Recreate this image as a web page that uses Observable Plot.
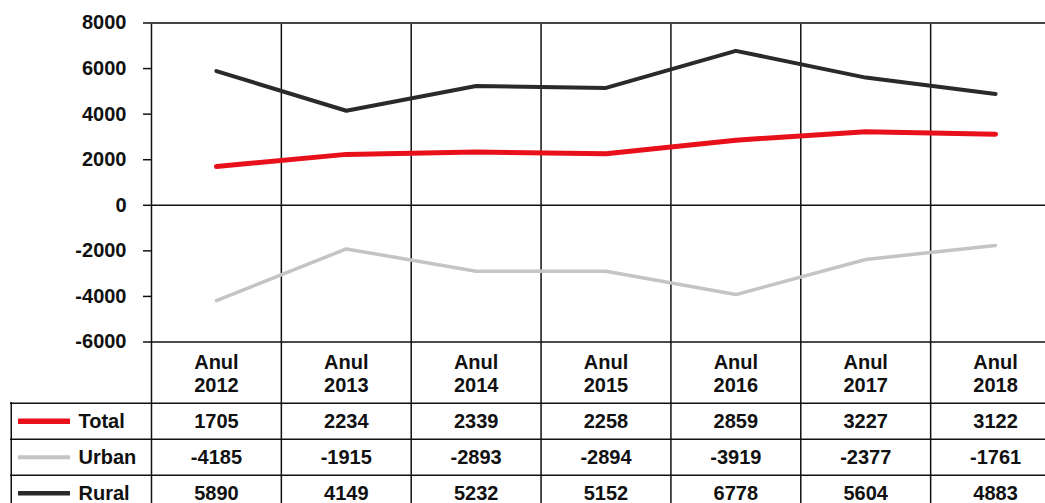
<!DOCTYPE html>
<html>
<head>
<meta charset="utf-8">
<script src="https://cdn.jsdelivr.net/npm/d3@7"></script>
<script src="https://cdn.jsdelivr.net/npm/@observablehq/plot@0.6"></script>
<style>
  html, body { margin: 0; padding: 0; background: #fff; }
  #chart svg { display: block; }
</style>
</head>
<body>
<div id="chart"></div>
<script>
const years = [2012, 2013, 2014, 2015, 2016, 2017, 2018];
const seriesNames = ["Total", "Urban", "Rural"];
const totalValues = [1705, 2234, 2339, 2258, 2859, 3227, 3122];
const urbanValues = [-4185, -1915, -2893, -2894, -3919, -2377, -1761];
const ruralValues = [5890, 4149, 5232, 5152, 6778, 5604, 4883];
const yTicks = [8000, 6000, 4000, 2000, 0, -2000, -4000, -6000];
const headerWord = "Anul";

const colors = {Total: "#e8101a", Urban: "#c4c4c4", Rural: "#2a2a2a"};
const widths = {Total: 5, Urban: 3.5, Rural: 4};
const valuesBy = {Total: totalValues, Urban: urbanValues, Rural: ruralValues};

const data = [];
for (const s of seriesNames) years.forEach((yr, i) => data.push({series: s, year: yr, value: valuesBy[s][i]}));

const boundaries = years.map(y => y - 0.5);
const W = 1045;
const xLeft = 151, colW = 129.857;
const xRange = [xLeft, xLeft + colW * years.length];
const xDomain = [years[0] - 0.5, years[years.length - 1] + 0.5];
const px2x = p => xDomain[0] + (p - xLeft) / colW;
const font = "'Liberation Sans', Arial, sans-serif";

const chart = Plot.plot({
  width: W, height: 402,
  marginLeft: xLeft, marginRight: 0, marginTop: 22.5, marginBottom: 0,
  style: {fontFamily: font, background: "#fff", overflow: "hidden"},
  x: {type: "linear", domain: xDomain, range: xRange, axis: null},
  y: {domain: [-6000, 8000], range: [341.5, 22.5], axis: null},
  color: {domain: seriesNames, range: seriesNames.map(s => colors[s])},
  marks: [
    Plot.ruleX(boundaries, {stroke: "#111", strokeWidth: 1.5}),
    Plot.ruleY([8000], {stroke: "#444", strokeWidth: 2.2}),
    Plot.ruleY([0, -6000], {stroke: "#111", strokeWidth: 1.5}),
    Plot.axisY(yTicks, {tickSize: 8, tickPadding: 17, tickFormat: d => String(d), fontSize: 20, fontWeight: "bold", fill: "#111", stroke: "#111", strokeWidth: 1.5, label: null}),
    ...["Urban", "Rural", "Total"].map(s =>
      Plot.line(data.filter(d => d.series === s), {x: "year", y: "value", stroke: colors[s], strokeWidth: widths[s], strokeLinejoin: "round"})
    ),
    Plot.text(years, {x: d => d, text: d => `${headerWord}\n${d}`, frameAnchor: "bottom", dy: -29, lineAnchor: "middle", lineHeight: 1.12, fontSize: 20, fontWeight: "bold", fill: "#111"})
  ]
});

const rowsTable = [];
seriesNames.forEach((s, r) => years.forEach((yr, i) => rowsTable.push({row: r, year: yr, value: valuesBy[s][i]})));
const legendRows = seriesNames.map((s, r) => ({row: r, series: s}));

const table = Plot.plot({
  width: W, height: 101,
  marginLeft: 10, marginRight: 0, marginTop: 0, marginBottom: 0,
  style: {fontFamily: font, background: "#fff", overflow: "hidden"},
  x: {type: "linear", domain: xDomain, range: xRange, axis: null},
  y: {type: "linear", domain: [0, 3], range: [0.75, 108.75], axis: null},
  marks: [
    Plot.ruleY([0, 1, 2, 3], {stroke: "#111", strokeWidth: 1.5}),
    Plot.ruleX(boundaries, {stroke: "#111", strokeWidth: 1.5}),
    Plot.ruleX([px2x(10.75)], {stroke: "#111", strokeWidth: 1.5}),
    Plot.ruleY(legendRows, {y: d => d.row + 0.5, x1: px2x(18), x2: px2x(70), stroke: d => colors[d.series], strokeWidth: d => widths[d.series] + 0.5}),
    Plot.text(legendRows, {y: d => d.row + 0.5, x: px2x(78), text: "series", textAnchor: "start", fontSize: 20, fontWeight: "bold", fill: "#111"}),
    Plot.text(rowsTable, {x: "year", y: d => d.row + 0.5, text: d => String(d.value), fontSize: 20, fontWeight: "bold", fill: "#111"})
  ]
});

const el = document.getElementById("chart");
el.appendChild(chart);
el.appendChild(table);
</script>
</body>
</html>
